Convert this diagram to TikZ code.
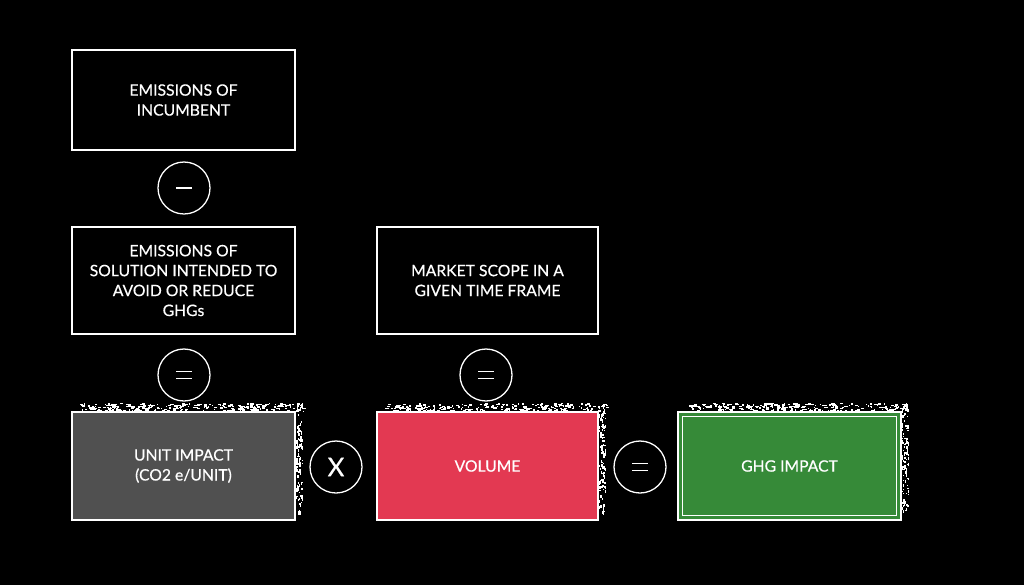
\documentclass[tikz,border=0pt]{standalone}
\usepackage{fontspec}
\setmainfont{Lato}[FakeBold=0.5]
\definecolor{unitgray}{HTML}{505050}
\definecolor{volred}{HTML}{E33952}
\definecolor{ghggreen}{HTML}{368A38}
\newcommand{\specktop}[3]{%
  \foreach \i in {1,...,260}{%
    \pgfmathsetmacro\px{#1+rnd*(#2-#1)}%
    \pgfmathsetmacro\py{#3+rnd*8}%
    \pgfmathsetmacro\pl{0.8+rnd*2.8}%
    \fill[white] (\px,\py) rectangle ++(\pl,1.4);
  }}
\newcommand{\speckright}[3]{%
  \foreach \i in {1,...,110}{%
    \pgfmathsetmacro\px{#1+rnd*7}%
    \pgfmathsetmacro\py{#2+rnd*(#3-#2)}%
    \pgfmathsetmacro\pl{0.8+rnd*2.8}%
    \fill[white] (\px,\py) rectangle ++(1.4,\pl);
  }}
\begin{document}
\begin{tikzpicture}[x=0.03cm,y=-0.03cm,
  txt/.style={text=white,font=\fontsize{13.4}{17}\selectfont,align=center},
  wbox/.style={draw=white,line width=1.1pt,fill=black,minimum width=223*0.03cm,inner sep=0pt},
  op/.style={circle,draw=white,line width=1.1pt,minimum size=52*0.03cm,inner sep=0pt,text=white,font=\fontsize{22}{22}\selectfont},
  eqsign/.style={white,line width=1.1pt}]
\fill[black] (0,0) rectangle (1024,585);
\useasboundingbox (0,0) rectangle (1024,585);
\pgfmathsetseed{7}
% speckles
\specktop{80}{303}{403}
\speckright{295}{404}{512}
\specktop{385}{606}{403}
\speckright{598}{404}{512}
\specktop{686}{909}{403}
\speckright{901}{404}{512}
% top boxes
\node[wbox,minimum height=100*0.03cm,txt] (inc) at (183.5,100) {EMISSIONS OF\\INCUMBENT};
\node[op] (minus) at (184,188) {};
\draw[eqsign] ([xshift=-8*0.03cm]minus.center) -- ([xshift=8*0.03cm]minus.center);
\node[wbox,minimum height=107*0.03cm,txt] (sol) at (183.5,280.5) {EMISSIONS OF\\SOLUTION INTENDED TO\\AVOID OR REDUCE\\GHGs};
\node[wbox,minimum height=107*0.03cm,minimum width=221*0.03cm,txt] (mkt) at (487.5,280.5) {MARKET SCOPE IN A\\GIVEN TIME FRAME};
\node[op] (eq1) at (184,375) {};
\node[op] (eq2) at (486,375) {};
% bottom boxes
\node[wbox,fill=unitgray,minimum height=108*0.03cm,txt] (unit) at (183.5,466) {UNIT IMPACT\\(CO2 e/UNIT)};
\node[op] (times) at (336,467) {X};
\node[wbox,fill=volred,minimum height=108*0.03cm,minimum width=221*0.03cm,txt] (vol) at (487.5,466) {VOLUME};
\node[op] (eq3) at (640,467) {};
\foreach \n in {eq1,eq2,eq3}{
  \draw[eqsign] ([xshift=-8*0.03cm,yshift=-3.5*0.03cm]\n.center) -- ([xshift=8*0.03cm,yshift=-3.5*0.03cm]\n.center);
  \draw[eqsign] ([xshift=-8*0.03cm,yshift=3.5*0.03cm]\n.center) -- ([xshift=8*0.03cm,yshift=3.5*0.03cm]\n.center);
}
\node[wbox,fill=ghggreen,minimum height=108*0.03cm,txt] (ghg) at (789.5,466) {GHG IMPACT};
\draw[white,line width=0.8pt] ([xshift=5*0.03cm,yshift=-5*0.03cm]ghg.north west) rectangle ([xshift=-5*0.03cm,yshift=5*0.03cm]ghg.south east);
\end{tikzpicture}
\end{document}
